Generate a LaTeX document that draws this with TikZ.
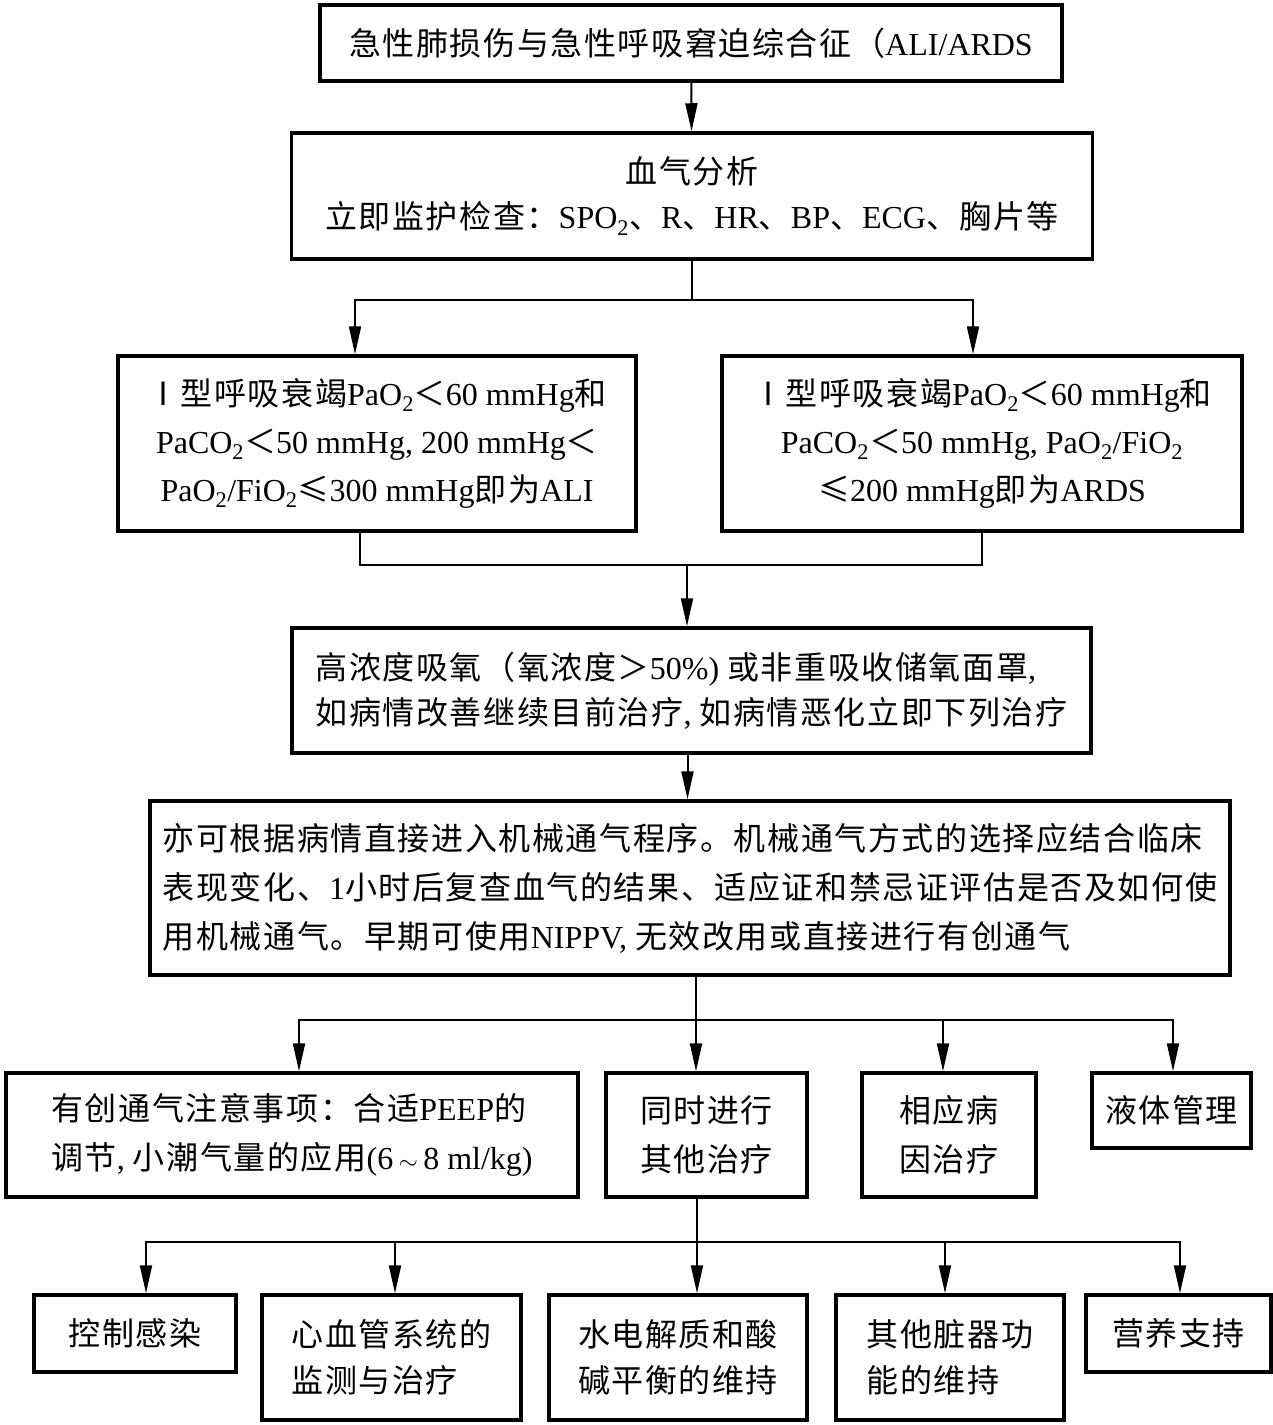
\documentclass[tikz,border=0pt]{standalone}
\usepackage{fontspec}
\setmainfont{Liberation Serif}
\newfontfamily\cjk[LetterSpace=5]{Noto Sans CJK SC}
\newcommand{\zh}[1]{{\cjk #1}}
\usetikzlibrary{arrows.meta}

\begin{document}
\begin{tikzpicture}[x=1pt,y=-1pt,>={Triangle[length=28pt,width=12pt]},line width=2pt]

  \tikzstyle{box}=[draw,line width=3.5pt,inner sep=0pt,align=center,
                   font=\fontsize{32}{48}\selectfont]

  \useasboundingbox (0,0) rectangle (1273,1425);

  \node[box,minimum width=742,minimum height=76]  (top)   at (691,43)    {\zh{急性肺损伤与急性呼吸窘迫综合征（}ALI/ARDS};
  \node[box,minimum width=801,minimum height=126,font=\fontsize{32}{45}\selectfont]
                                                  (gas)   at (692,196)   {\zh{血气分析}\\ \zh{立即监护检查：}SPO\textsubscript{2}\zh{、}R\zh{、}HR\zh{、}BP\zh{、}ECG\zh{、胸片等}};

  \node[box,minimum width=518,minimum height=175] (ali)   at (377,443.5) {\zh{Ⅰ型呼吸衰竭}PaO\textsubscript{2}\zh{＜}60 mmHg\zh{和}\\ PaCO\textsubscript{2}\zh{＜}50 mmHg, 200 mmHg\zh{＜}\\ PaO\textsubscript{2}/FiO\textsubscript{2}\zh{≤}300 mmHg\zh{即为}ALI};
  \node[box,minimum width=520,minimum height=175] (ards)  at (982,443.5) {\zh{Ⅰ型呼吸衰竭}PaO\textsubscript{2}\zh{＜}60 mmHg\zh{和}\\ PaCO\textsubscript{2}\zh{＜}50 mmHg, PaO\textsubscript{2}/FiO\textsubscript{2}\\ \zh{≤}200 mmHg\zh{即为}ARDS};

  \node[box,minimum width=799,minimum height=125,align=left,font=\fontsize{32}{45}\selectfont]
                                                  (oxy)   at (691.5,690.5) {\zh{高浓度吸氧（氧浓度＞}50\%) \zh{或非重吸收储氧面罩}, \\ \zh{如病情改善继续目前治疗}, \zh{如病情恶化立即下列治疗}};
  \node[box,minimum width=1080,minimum height=174,align=left,font=\fontsize{32}{49}\selectfont]
                                                  (mv)    at (690,888)   {\zh{亦可根据病情直接进入机械通气程序。机械通气方式的选择应结合临床}\\ \zh{表现变化、}1\zh{小时后复查血气的结果、适应证和禁忌证评估是否及如何使}\\ \zh{用机械通气。早期可使用}NIPPV, \zh{无效改用或直接进行有创通气}};

  \node[box,minimum width=572,minimum height=124,align=left,font=\fontsize{32}{49}\selectfont]
                                                  (inv)   at (292,1135)  {\zh{有创通气注意事项：合适}PEEP\zh{的}\\ \zh{调节}, \zh{小潮气量的应用}(6\,$\sim$\,8 ml/kg)};
  \node[box,minimum width=201,minimum height=124,font=\fontsize{32}{49}\selectfont]
                                                  (other) at (706.5,1135) {\zh{同时进行}\\ \zh{其他治疗}};
  \node[box,minimum width=174,minimum height=124,font=\fontsize{32}{49}\selectfont]
                                                  (cause) at (949,1135)  {\zh{相应病}\\ \zh{因治疗}};
  \node[box,minimum width=159,minimum height=75]  (fluid) at (1171.5,1110.5) {\zh{液体管理}};

  \node[box,minimum width=202,minimum height=77]  (infect) at (135,1333.5) {\zh{控制感染}};
  \node[box,minimum width=259,minimum height=125,align=left,font=\fontsize{32}{46}\selectfont]
                                                  (cardio) at (391.5,1357.5) {\zh{心血管系统的}\\ \zh{监测与治疗}};
  \node[box,minimum width=258,minimum height=125,align=left,font=\fontsize{32}{46}\selectfont]
                                                  (water)  at (678,1357.5) {\zh{水电解质和酸}\\ \zh{碱平衡的维持}};
  \node[box,minimum width=228,minimum height=125,align=left,font=\fontsize{32}{46}\selectfont]
                                                  (organ)  at (950,1357.5) {\zh{其他脏器功}\\ \zh{能的维持}};
  \node[box,minimum width=185,minimum height=77]  (nutri)  at (1178.5,1333.5) {\zh{营养支持}};

  \coordinate (s1) at (692,300);
  \coordinate (j1) at (687,565);
  \coordinate (s2) at (696,1020);
  \coordinate (s3) at (697,1242);

  \draw[->] (top) -- (gas);

  \draw (gas.south) -- (s1);
  \draw[->] (s1) -| ([xshift=-22]ali.north);
  \draw[->] (s1) -| ([xshift=-9]ards.north);

  \draw ([xshift=-17]ali.south) |- (j1) -| (ards.south);
  \draw[->] (j1) -- (j1 |- oxy.north);

  \draw[->] ([xshift=-4]oxy.south) -- ([xshift=-4]oxy.south |- mv.north);

  \draw (mv.south -| s2) -- (s2);
  \draw[->] (s2) -| ([xshift=7]inv.north);
  \draw[->] (s2) -- (s2 |- other.north);
  \draw[->] (s2) -| ([xshift=-6]cause.north);
  \draw[->] (s2) -| ([xshift=1.5]fluid.north);

  \draw (other.south -| s3) -- (s3);
  \draw[->] (s3) -| ([xshift=11]infect.north);
  \draw[->] (s3) -| ([xshift=3.5]cardio.north);
  \draw[->] (s3) -- (s3 |- water.north);
  \draw[->] (s3) -| ([xshift=-5]organ.north);
  \draw[->] (s3) -| ([xshift=1.5]nutri.north);

\end{tikzpicture}
\end{document}
